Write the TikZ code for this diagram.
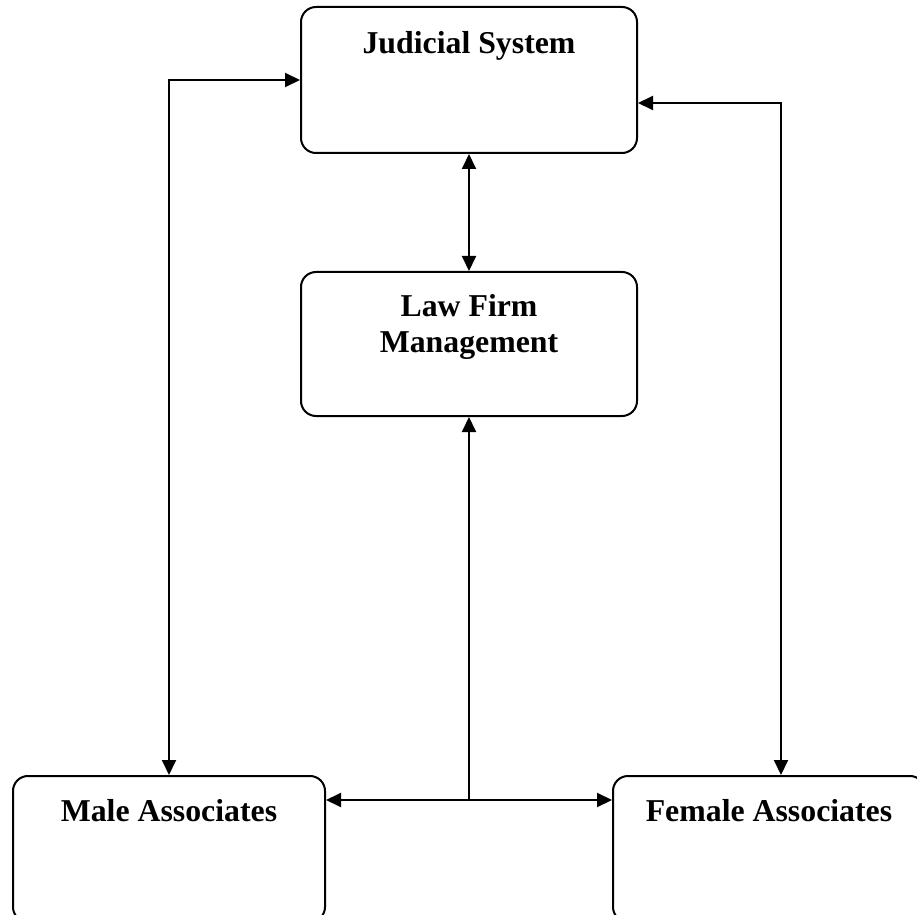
\documentclass[tikz,border=0pt]{standalone}
\usepackage{fontspec}
\setmainfont{Liberation Serif}
\usetikzlibrary{arrows.meta}

\begin{document}
\begin{tikzpicture}[x=0.5pt, y=-0.5pt,
        >={Triangle[length=7.5pt,width=7pt]},
        block/.style={draw, line width=1pt, rounded corners=7.5pt, inner sep=0pt},
        title/.style={font=\fontsize{15.9}{18}\selectfont\bfseries, align=center, anchor=base, inner sep=0pt},
        link/.style={line width=1pt}]
        % Fix the page size.
        \useasboundingbox (0,0) rectangle (917,915);
        % Draw the boxes.
        \node[block, minimum width=168pt, minimum height=73pt] (judicial) at (469,80) {};
        \node[block, minimum width=168pt, minimum height=72pt] (law) at (469,344) {};
        \node[block, minimum width=156pt, minimum height=73pt] (male) at (169,849) {};
        \node[block, minimum width=156pt, minimum height=73pt] (female) at (769,849) {};
        % Write the titles.
        \node[title] (judicial-title) at ([yshift=-24pt]judicial.north) {Judicial System};
        \node[title] (law-title) at ([yshift=-40.5pt]law.north) {Law Firm\\Management};
        \node[title] (male-title) at ([yshift=-23pt]male.north) {Male Associates};
        \node[title] (female-title) at ([yshift=-23pt]female.north) {Female Associates};
        % Draw the connectors.
        \coordinate (split) at (469,800);
        \draw[link, <->] (judicial.west) -| (male.north);
        \draw[link, <->] ([yshift=-11.5pt]judicial.east) -| ([xshift=6pt]female.north);
        \draw[link, <->] (judicial.south) -- (law.north);
        \draw[link, ->] (split) -- (law.south);
        \draw[link, <->] (male.east |- split) -- (female.west |- split);
\end{tikzpicture}
\end{document}
